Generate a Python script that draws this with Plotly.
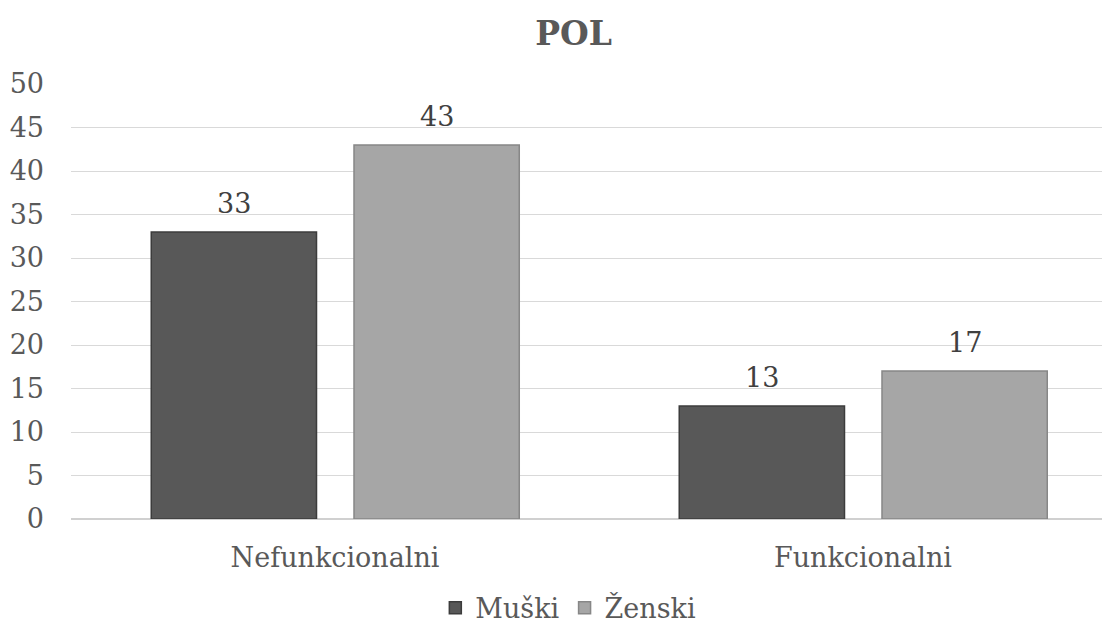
import plotly.graph_objects as go

categories = ["Nefunkcionalni", "Funkcionalni"]
muski = [33, 13]
zenski = [43, 17]
series_names = ["Muški", "Ženski"]

FONT = "DejaVu Serif"
BAR_W = 0.313
OFFSETS = [-0.348, 0.036]
COLORS = ["#585858", "#a6a6a6"]
LINES = ["#3c3c3c", "#878787"]

fig = go.Figure()
for vals, name, off, col, lc in zip([muski, zenski], series_names, OFFSETS, COLORS, LINES):
    fig.add_trace(go.Bar(
        x=categories, y=vals, name=name,
        marker=dict(color=col, line=dict(color=lc, width=1.5)),
        width=BAR_W, offset=off,
    ))
    for i, v in enumerate(vals):
        fig.add_annotation(
            x=i + off + BAR_W / 2, y=v, xref="x", yref="y",
            text=str(v), showarrow=False, yanchor="bottom", yshift=11,
            font=dict(family=FONT, size=27, color="#404040"),
        )

fig.update_layout(
    width=1110, height=630,
    barmode="overlay",
    plot_bgcolor="white", paper_bgcolor="white",
    margin=dict(l=63, r=0, t=76, b=119),
    font=dict(family=FONT, size=27, color="#595959"),
    title=dict(text="<b>POL</b>", x=0.48, xref="paper", y=0.96, yanchor="middle",
               font=dict(family=FONT, size=33, color="#595959")),
    xaxis=dict(range=[-0.5, 1.483], showgrid=False, ticks="", showline=False,
               tickfont=dict(family=FONT, size=27, color="#595959"),
               ticklabelstandoff=20),
    yaxis=dict(range=[0, 50], dtick=5, showgrid=True, gridcolor="#d9d9d9", gridwidth=1,
               zeroline=True, zerolinecolor="#d0d0d0", zerolinewidth=2,
               ticks="", showline=False,
               tickfont=dict(family=FONT, size=27, color="#595959"),
               ticklabelstandoff=26),
    legend=dict(orientation="h", x=0.475, xanchor="center", y=-0.205, yanchor="middle",
                font=dict(family=FONT, size=27, color="#595959"),
                itemwidth=30, tracegroupgap=0),
    showlegend=True,
)

fig.write_html("out.html")
